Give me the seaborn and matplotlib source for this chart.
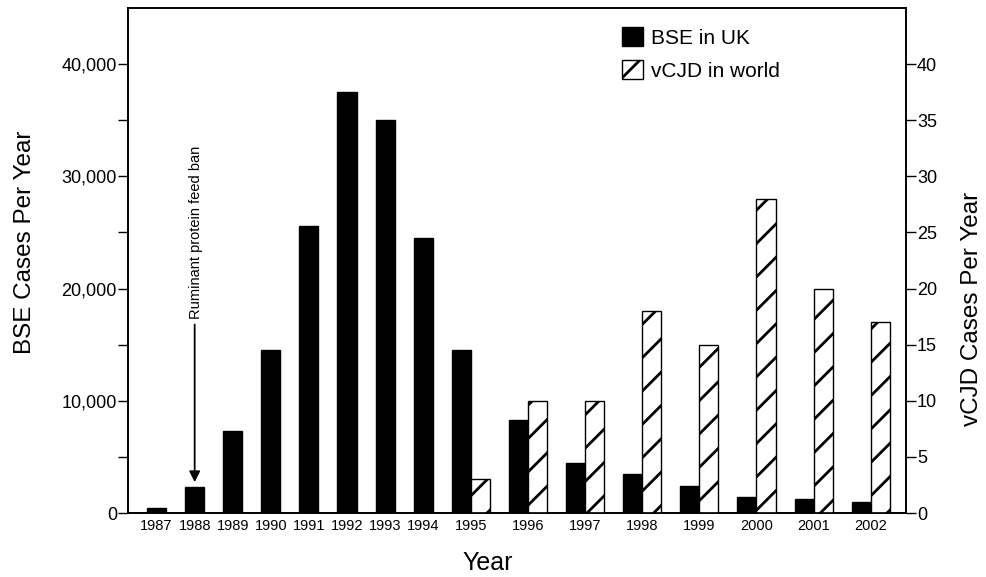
import numpy as np
import pandas as pd
import matplotlib.pyplot as plt
import seaborn as sns
from matplotlib.patches import Patch
from matplotlib.ticker import MultipleLocator, FixedLocator, FuncFormatter

# Data
years = [1987, 1988, 1989, 1990, 1991, 1992, 1993, 1994,
         1995, 1996, 1997, 1998, 1999, 2000, 2001, 2002]
bse_uk = [450, 2350, 7300, 14500, 25600, 37500, 35000, 24500,
          14500, 8250, 4500, 3450, 2400, 1400, 1280, 980]
vcjd_world = [0, 0, 0, 0, 0, 0, 0, 0,
              3, 10, 10, 18, 15, 28, 20, 17]

# Bar layout: each year takes one bar width per series present, plus one bar of gap
bse_pos, vcjd_pos, label_pos = [], [], []
left = -0.5
for v in vcjd_world:
    n = 2 if v > 0 else 1
    bse_pos.append(left + 0.5)
    if v > 0:
        vcjd_pos.append(left + 1.5)
    label_pos.append(left + n / 2)
    left += n + 1

bse = pd.DataFrame({"pos": bse_pos, "cases": bse_uk})
vcjd = pd.DataFrame({"pos": vcjd_pos, "cases": [v for v in vcjd_world if v > 0]})

sns.set_style("ticks")
plt.rcParams["font.family"] = ["Liberation Sans", "DejaVu Sans"]
plt.rcParams["hatch.linewidth"] = 2.0
plt.rcParams["text.color"] = "black"
plt.rcParams["axes.labelcolor"] = "black"
plt.rcParams["xtick.color"] = "black"
plt.rcParams["ytick.color"] = "black"

fig = plt.figure(figsize=(9.87, 5.77), dpi=100)
ax = fig.add_axes([0.1297, 0.1109, 0.7882, 0.8752])
ax2 = ax.twinx()

# BSE bars (left axis)
sns.barplot(data=bse, x="pos", y="cases", native_scale=True, width=0.5,
            color="black", saturation=1, errorbar=None,
            edgecolor="black", linewidth=1.0, ax=ax)

# vCJD bars (right axis)
sns.barplot(data=vcjd, x="pos", y="cases", native_scale=True, width=1 / 3,
            color="white", saturation=1, errorbar=None,
            edgecolor="black", linewidth=1.0, hatch="/", ax=ax2)

ax.set_xlim(-1.5, 39.35)
ax.set_ylim(0, 45000)
ax2.set_ylim(0, 45)

ax.set_xticks(label_pos)
ax.set_xticklabels([str(y) for y in years], fontsize=10.5)
ax.tick_params(axis="x", length=0, pad=4)

ax.yaxis.set_major_locator(MultipleLocator(10000))
ax.yaxis.set_minor_locator(FixedLocator([5000, 15000, 25000, 35000]))
ax.yaxis.set_major_formatter(FuncFormatter(lambda v, p: f"{int(v):,}"))
ax.tick_params(axis="y", which="both", length=7, width=1, pad=1, labelsize=13)

ax2.yaxis.set_major_locator(FixedLocator(list(range(0, 41, 5))))
ax2.tick_params(axis="y", length=7, width=1, pad=1, labelsize=13)

for a in (ax, ax2):
    for s in a.spines.values():
        s.set_linewidth(1.2)
        s.set_color("black")

ax.set_xlabel("Year", fontsize=18)
ax.xaxis.set_label_coords(0.463, -0.075)
ax.set_ylabel("BSE Cases Per Year", fontsize=17.5)
ax.yaxis.set_label_coords(-0.118, 0.537)
ax2.set_ylabel("vCJD Cases Per Year", fontsize=17.5)
ax2.yaxis.set_label_coords(1.071, 0.404)

# Feed ban annotation over the 1988 bar
i88 = years.index(1988)
ax.annotate("", xy=(bse_pos[i88], bse_uk[i88] + 400), xytext=(bse_pos[i88], 16800),
            arrowprops=dict(arrowstyle="-|>", color="black", lw=1.3,
                            mutation_scale=16, shrinkA=0, shrinkB=0))
ax.text(bse_pos[i88] + 0.08, 17300, "Ruminant protein feed ban",
        rotation=90, ha="center", va="bottom", fontsize=10.5)

handles = [Patch(facecolor="black", edgecolor="black"),
           Patch(facecolor="white", edgecolor="black", hatch="/")]
ax2.legend(handles, ["BSE in UK", "vCJD in world"], loc="upper left",
           bbox_to_anchor=(0.635, 0.962), borderaxespad=0, borderpad=0,
           frameon=False, fontsize=15, handlelength=1.0, handleheight=1.0,
           handletextpad=0.4, labelspacing=0.6)

fig.savefig("out.png", dpi=100)
